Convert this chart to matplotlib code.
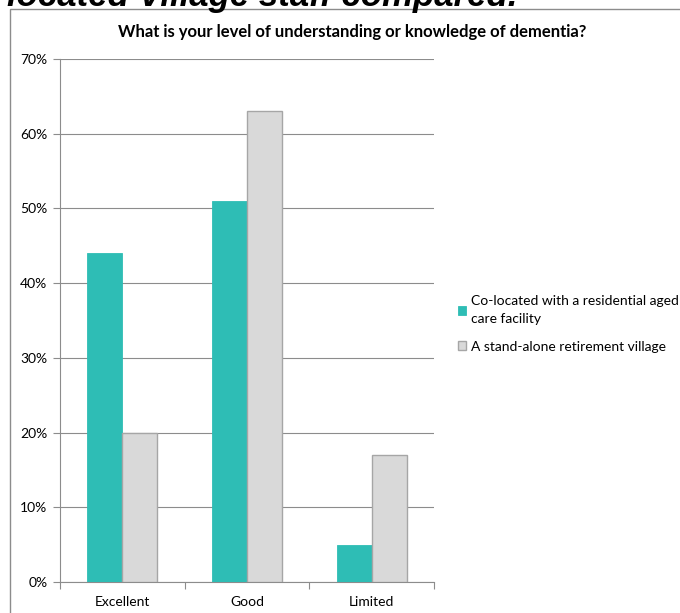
import numpy as np
import matplotlib.pyplot as plt
from matplotlib.patches import Rectangle

plt.rcParams['font.family'] = ['Lato', 'DejaVu Sans']

categories = ['Excellent', 'Good', 'Limited']
co_located = [44, 51, 5]
stand_alone = [20, 63, 17]
series_names = ['Co-located with a residential aged\ncare facility',
                'A stand-alone retirement village']
title = 'What is your level of understanding or knowledge of dementia?'

teal = '#2EBDB5'
grey = '#D9D9D9'

fig = plt.figure(figsize=(6.8, 6.13), dpi=100)
W, H = 680, 613

# chart frame
fig.patches.append(Rectangle((10 / W, -0.01), 1.0, 1 - 8.5 / H + 0.01,
                             transform=fig.transFigure, fill=False,
                             edgecolor='#8C8C8C', linewidth=1.0))

# cropped heading from the page above the chart
fig.text(517 / W, 1 - 6 / H, 'Co-located Village staff compared.', fontsize=25,
         fontweight='bold', style='italic', va='baseline', ha='right',
         family=['Liberation Sans', 'DejaVu Sans'])

ax = fig.add_axes([60 / W, 1 - 582 / H, (434 - 60) / W, (582 - 59) / H])

x = np.arange(len(categories))
w = 0.28
ax.bar(x - w / 2, co_located, w, color=teal, edgecolor=teal, linewidth=0.6,
       label=series_names[0], zorder=3)
ax.bar(x + w / 2, stand_alone, w, color=grey, edgecolor='#A6A6A6', linewidth=1.0,
       label=series_names[1], zorder=3)

ax.set_xlim(-0.5, 2.5)
ax.set_ylim(0, 70)
ax.set_yticks(range(0, 71, 10))
ax.set_yticklabels([f'{v}%' for v in range(0, 71, 10)], fontsize=10)
ax.yaxis.grid(True, color='#8C8C8C', linewidth=0.8, zorder=0)

ax.set_xticks([-0.5, 0.5, 1.5, 2.5])
ax.set_xticklabels([])
ax.set_xticks(x, minor=True)
ax.set_xticklabels(categories, minor=True, fontsize=10)
ax.tick_params(axis='x', which='major', length=5, color='#8C8C8C', direction='out')
ax.tick_params(axis='x', which='minor', length=0, pad=10)
ax.tick_params(axis='y', length=5, color='#8C8C8C', direction='out', pad=4)

for s in ['top', 'right']:
    ax.spines[s].set_visible(False)
for s in ['left', 'bottom']:
    ax.spines[s].set_color('#8C8C8C')

fig.text(352 / W, 1 - 32 / H, title, fontsize=12, fontweight='bold',
         ha='center', va='center')

leg = ax.legend(loc='center left', bbox_to_anchor=(452 / W, 1 - 324 / H),
                bbox_transform=fig.transFigure, frameon=False, fontsize=10,
                handlelength=0.6, handleheight=0.6, handletextpad=0.35,
                labelspacing=1.1, borderaxespad=0)
for t in leg.get_texts():
    t.set_linespacing(1.6)

fig.savefig('out.png', dpi=100)
